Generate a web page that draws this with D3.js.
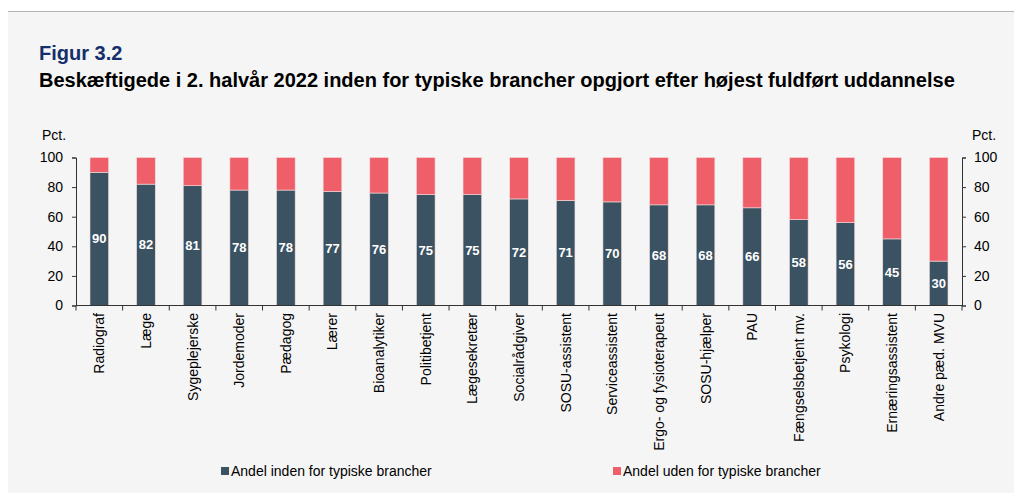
<!DOCTYPE html>
<html>
<head>
<meta charset="utf-8">
<script src="https://cdn.jsdelivr.net/npm/d3@7"></script>
<style>
  html, body { margin: 0; padding: 0; background: #ffffff; }
  svg { display: block; font-family: "Liberation Sans", Arial, sans-serif; }
</style>
</head>
<body>
<svg id="chart" width="1014" height="493"></svg>
<script>
// categories and values (pct.)
const categories = [
    "Radiograf", "Læge", "Sygeplejerske", "Jordemoder", "Pædagog", "Lærer",
    "Bioanalytiker", "Politibetjent", "Lægesekretær", "Socialrådgiver",
    "SOSU-assistent", "Serviceassistent", "Ergo- og fysioterapeut",
    "SOSU-hjælper", "PAU", "Fængselsbetjent mv.", "Psykologi",
    "Ernæringsassistent", "Andre pæd. MVU"
];
const inside = [90, 82, 81, 78, 78, 77, 76, 75, 75, 72, 71, 70, 68, 68, 66, 58, 56, 45, 30];
const outside = [10, 18, 19, 22, 22, 23, 24, 25, 25, 28, 29, 30, 32, 32, 34, 42, 44, 55, 70];
const seriesNames = ["Andel inden for typiske brancher", "Andel uden for typiske brancher"];
const yTicks = [0, 20, 40, 60, 80, 100];

const colors = ["#3b5262", "#ef5f69"];

const svg = d3.select("#chart");

// panel background and top rule
svg.append("rect")
   .attr("x", 8).attr("y", 12)
   .attr("width", 1006).attr("height", 481)
   .attr("fill", "#f5f5f5");
svg.append("line")
   .attr("x1", 8).attr("x2", 1014)
   .attr("y1", 11.5).attr("y2", 11.5)
   .attr("stroke", "#b4b4b4").attr("stroke-width", 1);

svg.append("text")
   .attr("x", 39).attr("y", 60)
   .attr("fill", "#142f6b")
   .attr("font-weight", "bold")
   .attr("font-size", "20px")
   .text("Figur 3.2");
svg.append("text")
   .attr("x", 39).attr("y", 87)
   .attr("fill", "#000")
   .attr("font-weight", "bold")
   .attr("font-size", "20px")
   .text("Beskæftigede i 2. halvår 2022 inden for typiske brancher opgjort efter højest fuldført uddannelse");

const plotLeft = 76, plotRight = 962, plotTop = 157.5, plotBottom = 305.5;

const xScale = d3.scaleBand()
                 .domain(categories)
                 .range([plotLeft, plotRight])
                 .paddingInner(0.6)
                 .paddingOuter(0.3);
const yScale = d3.scaleLinear()
                 .domain([0, 100])
                 .range([plotBottom, plotTop]);

const stackData = categories.map((c, i) => ({cat: c, inside: inside[i], outside: outside[i]}));
const stacked = d3.stack().keys(["inside", "outside"])(stackData);

svg.append("g")
   .selectAll("g")
   .data(stacked)
   .join("g")
   .attr("fill", (d, i) => colors[i])
   .selectAll("rect")
   .data(d => d)
   .join("rect")
   .attr("x", d => xScale(d.data.cat))
   .attr("width", xScale.bandwidth())
   .attr("y", d => yScale(d[1]))
   .attr("height", d => yScale(d[0]) - yScale(d[1]))
   .attr("stroke", "#f3dede")
   .attr("stroke-width", 0.6);

// value labels
svg.append("g")
   .selectAll("text")
   .data(stackData)
   .join("text")
   .attr("x", d => xScale(d.cat) + xScale.bandwidth() / 2)
   .attr("y", d => yScale(d.inside / 2) + 4.5)
   .attr("text-anchor", "middle")
   .attr("fill", "#fff")
   .attr("font-weight", "bold")
   .attr("font-size", "13px")
   .text(d => d.inside);

// axes
const axisStyle = g => {
    g.select(".domain").attr("stroke", "#333");
    g.selectAll(".tick line").attr("stroke", "#333");
    g.selectAll(".tick text")
     .attr("fill", "#000")
     .attr("font-size", "14px")
     .attr("font-family", "Liberation Sans, Arial, sans-serif");
};

svg.append("g")
   .attr("transform", `translate(${plotLeft},0)`)
   .call(d3.axisLeft(yScale).tickValues(yTicks).tickSize(4).tickSizeOuter(4).tickPadding(9))
   .call(axisStyle);

svg.append("g")
   .attr("transform", `translate(${plotRight},0)`)
   .call(d3.axisRight(yScale).tickValues(yTicks).tickSize(4).tickSizeOuter(4).tickPadding(8))
   .call(axisStyle);

// x baseline with ticks between categories
const xg = svg.append("g");
xg.append("line")
  .attr("x1", plotLeft).attr("x2", plotRight)
  .attr("y1", plotBottom).attr("y2", plotBottom)
  .attr("stroke", "#333");
xg.selectAll("line.sep")
  .data(d3.range(categories.length + 1))
  .join("line")
  .attr("class", "sep")
  .attr("x1", i => plotLeft + i * xScale.step())
  .attr("x2", i => plotLeft + i * xScale.step())
  .attr("y1", plotBottom).attr("y2", plotBottom + 5)
  .attr("stroke", "#333");

xg.selectAll("text")
  .data(categories)
  .join("text")
  .attr("transform", d => `translate(${xScale(d) + xScale.bandwidth() / 2 + 5}, 313) rotate(-90)`)
  .attr("text-anchor", "end")
  .attr("fill", "#000")
  .attr("font-size", "14px")
  .text(d => d);

// Pct. labels
svg.append("text").attr("x", 42).attr("y", 140).attr("font-size", "14px").text("Pct.");
svg.append("text").attr("x", 972).attr("y", 140).attr("font-size", "14px").text("Pct.");

// legend
const legendX = [221, 613];
const legend = svg.append("g")
                  .selectAll("g")
                  .data(seriesNames)
                  .join("g")
                  .attr("transform", (d, i) => `translate(${legendX[i]}, 467)`);
legend.append("rect")
      .attr("width", 8).attr("height", 8)
      .attr("fill", (d, i) => colors[i]);
legend.append("text")
      .attr("x", 10).attr("y", 8.5)
      .attr("font-size", "14px")
      .attr("fill", "#000")
      .text(d => d);
</script>
</body>
</html>
